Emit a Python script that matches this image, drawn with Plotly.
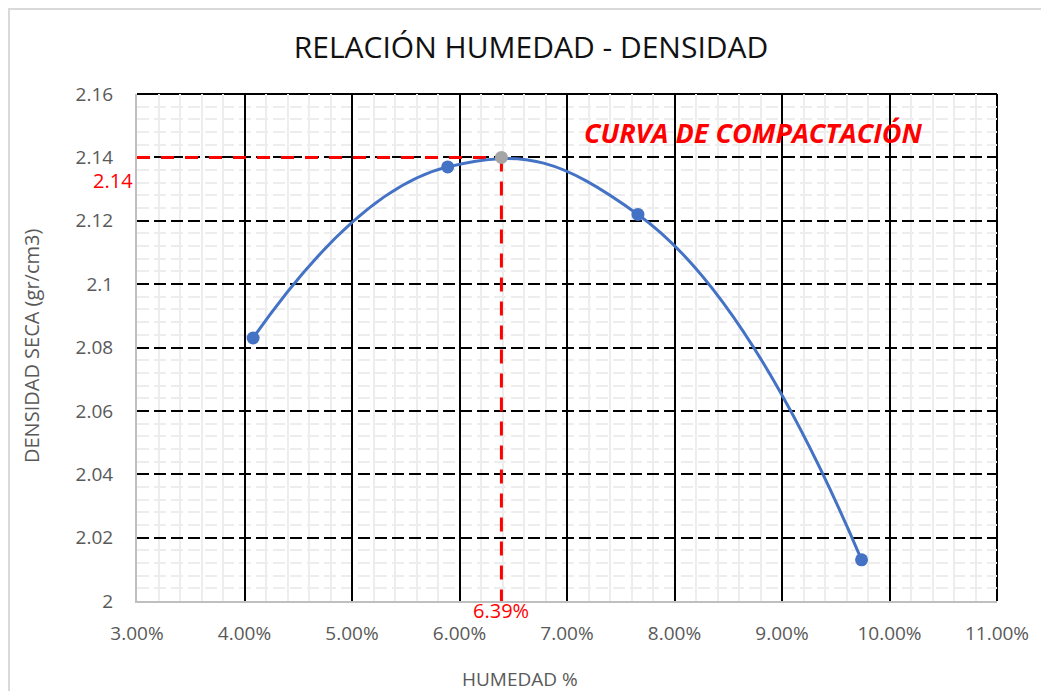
import plotly.graph_objects as go

# ---- data ----
humedad = [0.0408, 0.0589, 0.0766, 0.0974]
densidad = [2.083, 2.137, 2.122, 2.013]
hum_opt = 0.0639
dens_max = 2.14

x_ticks = [0.03, 0.04, 0.05, 0.06, 0.07, 0.08, 0.09, 0.10, 0.11]
x_ticktext = ["3.00%", "4.00%", "5.00%", "6.00%", "7.00%", "8.00%", "9.00%", "10.00%", "11.00%"]
y_ticks = [2.0, 2.02, 2.04, 2.06, 2.08, 2.1, 2.12, 2.14, 2.16]
y_ticktext = ["2", "2.02", "2.04", "2.06", "2.08", "2.1", "2.12", "2.14", "2.16"]

title_text = "RELACIÓN HUMEDAD - DENSIDAD"
x_title = "HUMEDAD %"
y_title = "DENSIDAD SECA (gr/cm3)"
curve_label = "CURVA DE COMPACTACIÓN"

# page body has an 8px margin; work in reference pixels and shift
OFF = 8
W, H = 1049 - 2 * OFF, 699 - 2 * OFF
L = 137 - OFF
T = 94 - OFF
R = W - (997 - OFF)
B = H - (601 - OFF)
PW, PH = W - L - R, H - T - B

def px_x(p):
    return (p - OFF - L) / PW

def px_y(p):
    return (H - B - (p - OFF)) / PH

FONT = "Open Sans"
GRAY = "#595959"
RED = "#FF0000"
BLUE = "#4472C4"

fig = go.Figure()

# red dashed reference lines
fig.add_trace(go.Scatter(x=[0.03, hum_opt], y=[dens_max, dens_max], mode="lines",
                         line=dict(color=RED, width=3, dash="13px,11px"),
                         hoverinfo="skip", showlegend=False))
fig.add_trace(go.Scatter(x=[hum_opt, hum_opt], y=[dens_max, 2.0], mode="lines",
                         line=dict(color=RED, width=3, dash="14px,10px"),
                         hoverinfo="skip", showlegend=False))

# compaction curve
fig.add_trace(go.Scatter(x=humedad, y=densidad, mode="lines+markers",
                         line=dict(color=BLUE, width=3, shape="spline", smoothing=1.3),
                         marker=dict(color=BLUE, size=13),
                         showlegend=False))

# max point
fig.add_trace(go.Scatter(x=[hum_opt], y=[dens_max], mode="markers",
                         marker=dict(color="#A5A5A5", size=13),
                         showlegend=False))

fig.update_layout(
    width=W, height=H,
    margin=dict(l=L, r=R, t=T, b=B),
    paper_bgcolor="white", plot_bgcolor="white",
    font=dict(family=FONT, color=GRAY, size=19),
    title=dict(text=title_text, x=(531 - OFF) / W, y=1 - (47 - OFF) / H, xref="container", yref="container",
               xanchor="center", yanchor="middle",
               font=dict(family=FONT, size=30, color="#111111")),
    xaxis=dict(range=[0.03, 0.11], tickvals=x_ticks, ticktext=x_ticktext,
               showgrid=True, gridcolor="black", gridwidth=2,
               showline=True, linecolor="#BFBFBF", linewidth=2,
               ticks="", ticklabelstandoff=14, zeroline=False,
               tickfont=dict(size=19, color=GRAY),
               minor=dict(dtick=0.002, tick0=0.03, showgrid=True, gridcolor="#EDEDED", gridwidth=2)),
    yaxis=dict(range=[2.0, 2.16], tickvals=y_ticks, ticktext=y_ticktext,
               showgrid=True, gridcolor="black", gridwidth=2, griddash="12px,5px",
               showline=True, linecolor="#BFBFBF", linewidth=2,
               ticks="", ticklabelstandoff=18, zeroline=False,
               tickfont=dict(size=19, color=GRAY),
               minor=dict(dtick=0.004, tick0=2.0, showgrid=True, gridcolor="#EDEDED", gridwidth=2)),
)

# top and right plot edges (black major grid)
fig.add_shape(type="line", xref="paper", yref="paper", x0=0, x1=1, y0=1, y1=1,
              line=dict(color="black", width=2), layer="below")
fig.add_shape(type="line", xref="paper", yref="paper", x0=1, x1=1, y0=0, y1=1,
              line=dict(color="black", width=2), layer="below")

# chart outer border
fig.add_shape(type="rect", xref="paper", yref="paper",
              x0=px_x(9), x1=px_x(1100), y0=px_y(760), y1=px_y(9),
              line=dict(color="#D9D9D9", width=2), fillcolor="rgba(0,0,0,0)", layer="below")

# labels
fig.add_annotation(x=px_x(135), y=px_y(180), xref="paper", yref="paper", text="2.14",
                   xanchor="right", yanchor="middle", showarrow=False,
                   font=dict(color=RED, size=20, family=FONT))
fig.add_annotation(x=hum_opt, y=px_y(610), xref="x", yref="paper", text="6.39%",
                   xanchor="center", yanchor="middle", showarrow=False,
                   font=dict(color=RED, size=20, family=FONT))
fig.add_annotation(x=px_x(753), y=px_y(133), xref="paper", yref="paper", text="<b><i>" + curve_label + "</i></b>",
                   xanchor="center", yanchor="middle", showarrow=False,
                   font=dict(color=RED, size=27, family=FONT))
fig.add_annotation(x=px_x(520), y=px_y(679), xref="paper", yref="paper", text=x_title,
                   xanchor="center", yanchor="middle", showarrow=False,
                   font=dict(color=GRAY, size=19, family=FONT))
fig.add_annotation(x=px_x(31), y=px_y(346), xref="paper", yref="paper", text=y_title,
                   textangle=-90, xanchor="center", yanchor="middle", showarrow=False,
                   font=dict(color=GRAY, size=20, family=FONT))

fig.write_html("out.html")
